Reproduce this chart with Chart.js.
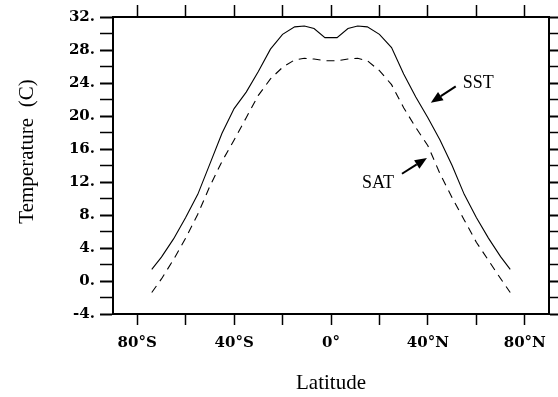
<!DOCTYPE html>
<html>
<head>
<meta charset="utf-8">
<script src="https://cdn.jsdelivr.net/npm/chart.js@4/dist/chart.umd.min.js"></script>
<style>
  html, body { margin: 0; padding: 0; background: #ffffff; }
  #wrap { width: 558px; height: 397px; }
</style>
</head>
<body>
<div id="wrap"><canvas id="c" width="558" height="397"></canvas></div>
<script>
// Zonal-mean temperature profiles (degrees C) against latitude
const latitudes = [-74, -70, -65, -60, -55, -50, -45, -40, -35, -30, -25, -20, -15, -11, -7, -2.5,
                   2.5, 7, 11, 15, 20, 25, 30, 35, 40, 45, 50, 55, 60, 65, 70, 74];
const sstValues = [1.4, 2.9, 5.1, 7.7, 10.5, 14.2, 17.9, 20.9, 22.9, 25.4, 28.1, 29.9, 30.8, 30.9, 30.6, 29.5,
                   29.5, 30.6, 30.9, 30.8, 29.9, 28.3, 25.1, 22.3, 19.8, 17.1, 14.0, 10.5, 7.7, 5.2, 2.95, 1.4];
const satValues = [-1.4, 0.25, 2.6, 5.2, 8.1, 11.5, 14.5, 17.1, 19.8, 22.5, 24.5, 25.9, 26.8, 27.0, 26.9, 26.7,
                   26.7, 26.9, 27.0, 26.7, 25.5, 23.8, 21.0, 18.6, 16.4, 13.0, 10.1, 7.4, 4.7, 2.5, 0.3, -1.4];

const xTickValues = [-80, -60, -40, -20, 0, 20, 40, 60, 80];
const yTickValues = [-4, -2, 0, 2, 4, 6, 8, 10, 12, 14, 16, 18, 20, 22, 24, 26, 28, 30, 32];

const LABEL_FONT = { family: '"DejaVu Serif", serif', size: 15, weight: 'bold' };
const TITLE_FAMILY = '"Liberation Serif", "Times New Roman", serif';

function latLabel(v) {
  if (v % 40 !== 0) return '';
  if (v === 0) return '0\u00b0';
  return Math.abs(v) + '\u00b0' + (v < 0 ? 'S' : 'N');
}
function tempLabel(v) {
  return v % 4 === 0 ? v + '.' : '';
}

function fixedTicks(values) {
  return scale => { scale.ticks = values.map(v => ({ value: v })); };
}

function boxAxis(extra) {
  return Object.assign({
    type: 'linear',
    border: { display: true, color: '#000', width: 2 }
  }, extra);
}

// Arrow labels pointing at the two curves, placed in data coordinates
const curveNotes = [
  { text: 'SST', at: [54.4, 24.0], align: 'left', from: [51.5, 23.6], to: [41.2, 21.6] },
  { text: 'SAT', at: [19.4, 11.8], align: 'center', from: [29.3, 13.0], to: [39.6, 14.9] }
];

const notesPlugin = {
  id: 'curveNotes',
  afterDraw(chart) {
    const { ctx, scales: { x, y }, chartArea } = chart;
    ctx.save();
    ctx.fillStyle = '#000';
    ctx.strokeStyle = '#000';
    ctx.font = '18px ' + TITLE_FAMILY;
    ctx.textBaseline = 'middle';
    curveNotes.forEach(n => {
      ctx.textAlign = n.align;
      ctx.fillText(n.text, x.getPixelForValue(n.at[0]), y.getPixelForValue(n.at[1]));
      const x0 = x.getPixelForValue(n.from[0]), y0 = y.getPixelForValue(n.from[1]);
      const x1 = x.getPixelForValue(n.to[0]), y1 = y.getPixelForValue(n.to[1]);
      const ang = Math.atan2(y1 - y0, x1 - x0);
      const head = 12, half = 5;
      const bx = x1 - head * Math.cos(ang), by = y1 - head * Math.sin(ang);
      ctx.lineWidth = 2;
      ctx.beginPath();
      ctx.moveTo(x0, y0);
      ctx.lineTo(bx, by);
      ctx.stroke();
      ctx.beginPath();
      ctx.moveTo(x1, y1);
      ctx.lineTo(bx + half * Math.sin(ang), by - half * Math.cos(ang));
      ctx.lineTo(bx - half * Math.sin(ang), by + half * Math.cos(ang));
      ctx.closePath();
      ctx.fill();
    });
    // vertical axis title
    ctx.font = '21px ' + TITLE_FAMILY;
    ctx.textAlign = 'center';
    ctx.translate(27, (chartArea.top + chartArea.bottom) / 2 - 14);
    ctx.rotate(-Math.PI / 2);
    ctx.fillText('Temperature  (C)', 0, 0);
    ctx.restore();
  }
};

new Chart(document.getElementById('c'), {
  type: 'line',
  data: {
    datasets: [
      {
        label: 'SST',
        data: latitudes.map((lat, i) => ({ x: lat, y: sstValues[i] })),
        borderColor: '#000',
        borderWidth: 1.1,
        pointRadius: 0,
        tension: 0,
        fill: false
      },
      {
        label: 'SAT',
        data: latitudes.map((lat, i) => ({ x: lat, y: satValues[i] })),
        borderColor: '#000',
        borderWidth: 1.1,
        borderDash: [8, 6],
        pointRadius: 0,
        tension: 0,
        fill: false
      }
    ]
  },
  options: {
    responsive: false,
    animation: false,
    devicePixelRatio: 1,
    layout: { padding: 0 },
    plugins: { legend: { display: false }, tooltip: { enabled: false } },
    scales: {
      x: boxAxis({
        position: 'bottom',
        min: -90, max: 90,
        afterBuildTicks: fixedTicks(xTickValues),
        afterFit: s => { s.height = 83; },
        grid: { drawOnChartArea: false, tickColor: '#000', tickLength: 11, tickWidth: 1.5 },
        ticks: { color: '#000', font: LABEL_FONT, padding: 9, maxRotation: 0, autoSkip: false, callback: latLabel },
        title: { display: true, text: 'Latitude', color: '#000', font: { family: TITLE_FAMILY, size: 21 }, padding: { top: 0, bottom: 1 } }
      }),
      xTop: boxAxis({
        position: 'top',
        min: -90, max: 90,
        afterBuildTicks: fixedTicks(xTickValues),
        afterFit: s => { s.height = 17; },
        grid: { drawOnChartArea: false, tickColor: '#000', tickLength: 12, tickWidth: 1.5 },
        ticks: { display: false }
      }),
      y: boxAxis({
        position: 'left',
        min: -4, max: 32,
        afterBuildTicks: fixedTicks(yTickValues),
        afterFit: s => { s.width = 113; },
        grid: { drawOnChartArea: false, tickColor: '#000', tickLength: 13,
                tickWidth: c => (c.tick && c.tick.value % 4 === 0 ? 2 : 1.5) },
        ticks: { color: '#000', font: LABEL_FONT, padding: 5, autoSkip: false, callback: tempLabel }
      }),
      yRight: boxAxis({
        position: 'right',
        min: -4, max: 32,
        afterBuildTicks: fixedTicks(yTickValues),
        afterFit: s => { s.width = 9; },
        grid: { drawOnChartArea: false, tickColor: '#000', tickLength: 9,
                tickWidth: c => (c.tick && c.tick.value % 4 === 0 ? 2 : 1.5) },
        ticks: { display: false }
      })
    }
  },
  plugins: [notesPlugin]
});
</script>
</body>
</html>
